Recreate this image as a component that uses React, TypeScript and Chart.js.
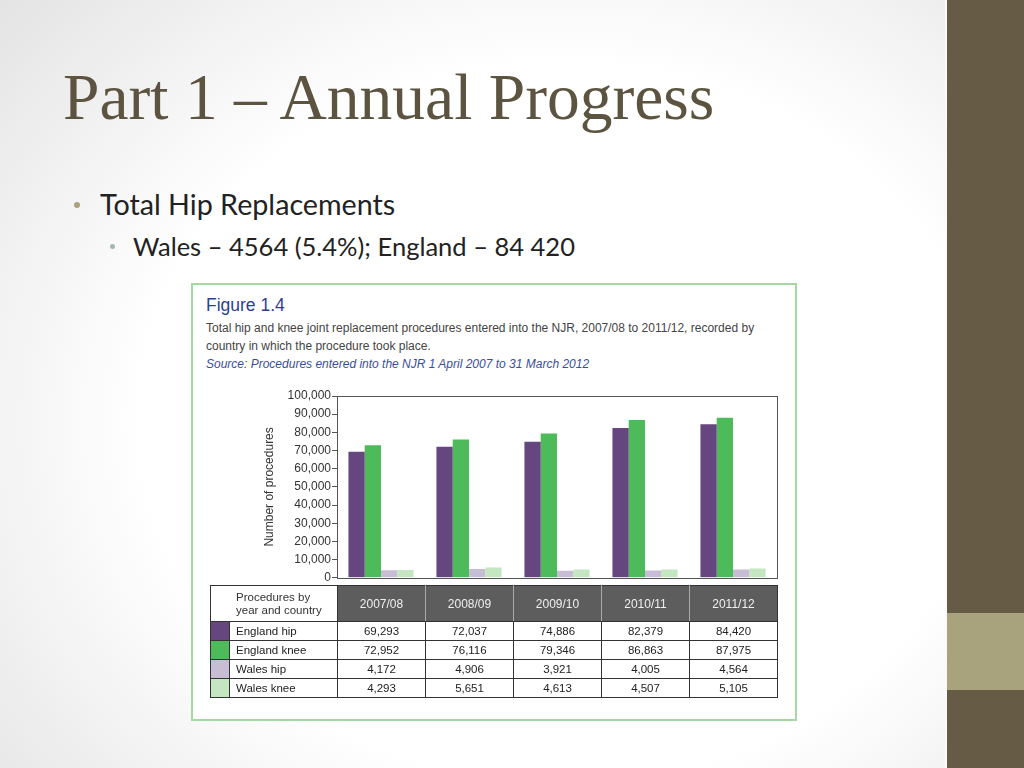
import React, { useEffect, useRef } from "react";
import { Chart, registerables } from "chart.js";

Chart.register(...registerables);

const years = ["2007/08", "2008/09", "2009/10", "2010/11", "2011/12"];
const seriesNames = ["England hip", "England knee", "Wales hip", "Wales knee"];
const englandHip = [69293, 72037, 74886, 82379, 84420];
const englandKnee = [72952, 76116, 79346, 86863, 87975];
const walesHip = [4172, 4906, 3921, 4005, 4564];
const walesKnee = [4293, 5651, 4613, 4507, 5105];
const seriesColors = ["#66467f", "#4dbb5a", "#c7bed6", "#c4e6c0"];
const yTicks = [0, 10000, 20000, 30000, 40000, 50000, 60000, 70000, 80000, 90000, 100000];

const allSeries = [englandHip, englandKnee, walesHip, walesKnee];

const fmt = (v: number) => v.toLocaleString("en-GB");

const framePlugin = {
  id: "frame",
  afterDraw(chart: any) {
    const { ctx, chartArea } = chart;
    ctx.save();
    ctx.strokeStyle = "#555";
    ctx.lineWidth = 1;
    ctx.strokeRect(
      Math.round(chartArea.left) + 0.5,
      Math.round(chartArea.top) + 0.5,
      Math.round(chartArea.right - chartArea.left),
      Math.round(chartArea.bottom - chartArea.top)
    );
    ctx.restore();
  },
};

function BarChart() {
  const ref = useRef<HTMLCanvasElement | null>(null);
  useEffect(() => {
    if (!ref.current) return;
    const chart = new Chart(ref.current, {
      type: "bar",
      data: {
        labels: years,
        datasets: seriesNames.map((name, i) => ({
          label: name,
          data: allSeries[i],
          backgroundColor: seriesColors[i],
          borderWidth: 0,
          categoryPercentage: 0.74,
          barPercentage: 1.0,
        })),
      },
      options: {
        animation: false,
        responsive: false,
        devicePixelRatio: 1,
        layout: { padding: { top: 16, bottom: 8, left: 60, right: 13 } },
        plugins: { legend: { display: false }, tooltip: { enabled: false } },
        scales: {
          x: { display: false },
          y: {
            min: 0,
            max: 100000,
            afterBuildTicks: (axis: any) => {
              axis.ticks = yTicks.map((v) => ({ value: v }));
            },
            afterFit: (axis: any) => {
              axis.width = 77;
            },
            border: { display: true, color: "#555" },
            grid: { drawOnChartArea: false, drawTicks: true, tickLength: 5, color: "#555" },
            ticks: {
              padding: 1,
              color: "#333",
              font: { family: "'Liberation Sans', Arial, sans-serif", size: 12 },
              callback: (v: any) => fmt(Number(v)),
            },
            title: {
              display: true,
              text: "Number of procedures",
              color: "#333",
              padding: { top: 2, bottom: 0 },
              font: { family: "'Liberation Sans', Arial, sans-serif", size: 12 },
            },
          },
        },
      },
      plugins: [framePlugin],
    });
    return () => chart.destroy();
  }, []);
  return <canvas ref={ref} width={590} height={206} style={{ position: "absolute", left: 200, top: 380 }} />;
}

function DataTable() {
  const border = "1px solid #333";
  const font = "'Liberation Sans', Arial, sans-serif";
  return (
    <table
      style={{
        position: "absolute",
        left: 210,
        top: 585,
        width: 568,
        borderCollapse: "collapse",
        tableLayout: "fixed",
        fontFamily: font,
        fontSize: 11.5,
        color: "#222",
      }}
    >
      <colgroup>
        <col style={{ width: 19 }} />
        <col style={{ width: 108 }} />
        {years.map((y) => (
          <col key={y} style={{ width: 88 }} />
        ))}
      </colgroup>
      <tbody>
        <tr style={{ height: 36 }}>
          <td
            colSpan={2}
            style={{
              border,
              padding: "0 0 0 25px",
              lineHeight: "13px",
              fontSize: 11.5,
              color: "#333",
              background: "#fff",
            }}
          >
            Procedures by
            <br />
            year and country
          </td>
          {years.map((y, i) => (
            <td
              key={y}
              style={{
                background: "#5d5d5d",
                color: "#f0f0f0",
                textAlign: "center",
                fontSize: 12,
                borderTop: border,
                borderBottom: border,
                borderRight: i === years.length - 1 ? border : "1px solid #aaa",
                padding: 0,
              }}
            >
              {y}
            </td>
          ))}
        </tr>
        {seriesNames.map((name, r) => (
          <tr key={name} style={{ height: 19 }}>
            <td style={{ background: seriesColors[r], border, padding: 0 }} />
            <td style={{ border, padding: "0 0 0 6px", whiteSpace: "nowrap" }}>{name}</td>
            {allSeries[r].map((v, c) => (
              <td key={c} style={{ border, textAlign: "center", padding: 0 }}>
                {fmt(v)}
              </td>
            ))}
          </tr>
        ))}
      </tbody>
    </table>
  );
}

export default function App() {
  const sans = "'Liberation Sans', Arial, sans-serif";
  return (
    <div
      style={{
        position: "absolute",
        left: 0,
        top: 0,
        width: 1024,
        height: 768,
        overflow: "hidden",
        background: "radial-gradient(ellipse 75% 85% at 55% 55%, #ffffff 55%, #e2e2e2 100%)",
      }}
    >
      <div style={{ position: "absolute", left: 945, top: 0, width: 2, height: 768, background: "#fafafa" }} />
      <div style={{ position: "absolute", left: 947, top: 0, width: 77, height: 768, background: "#665b45" }} />
      <div style={{ position: "absolute", left: 947, top: 613, width: 77, height: 77, background: "#a9a37d" }} />

      <div
        style={{
          position: "absolute",
          left: 63,
          top: 57,
          fontFamily: "'Liberation Serif', 'Times New Roman', serif",
          fontSize: 65.5,
          lineHeight: "80px",
          color: "#5c5440",
          whiteSpace: "nowrap",
        }}
      >
        Part 1 – Annual Progress
      </div>

      <div style={{ position: "absolute", left: 74, top: 202, width: 6, height: 6, borderRadius: 3, background: "#a9a37d" }} />
      <div
        style={{
          position: "absolute",
          left: 100,
          top: 186,
          fontFamily: "Lato, 'Open Sans', sans-serif",
          fontSize: 28.7,
          lineHeight: "36px",
          color: "#222",
          whiteSpace: "nowrap",
        }}
      >
        Total Hip Replacements
      </div>
      <div style={{ position: "absolute", left: 110, top: 244, width: 5, height: 5, borderRadius: 3, background: "#a3b6b0" }} />
      <div
        style={{
          position: "absolute",
          left: 133,
          top: 230,
          fontFamily: "Lato, 'Open Sans', sans-serif",
          fontSize: 25.5,
          lineHeight: "32px",
          color: "#222",
          whiteSpace: "nowrap",
        }}
      >
        Wales – 4564 (5.4%); England – 84 420
      </div>

      <div
        style={{
          position: "absolute",
          left: 191,
          top: 283,
          width: 602,
          height: 434,
          border: "2px solid #a6d8a2",
          background: "#fff",
        }}
      />
      <div
        style={{
          position: "absolute",
          left: 206,
          top: 295,
          fontFamily: sans,
          fontSize: 17.5,
          color: "#2d3f8f",
          whiteSpace: "nowrap",
        }}
      >
        Figure 1.4
      </div>
      <div
        style={{
          position: "absolute",
          left: 206,
          top: 319,
          width: 580,
          fontFamily: sans,
          fontSize: 12,
          lineHeight: "18px",
          color: "#444",
          whiteSpace: "nowrap",
        }}
      >
        Total hip and knee joint replacement procedures entered into the NJR, 2007/08 to 2011/12, recorded by
        <br />
        country in which the procedure took place.
        <br />
        <span style={{ fontStyle: "italic", color: "#3b4e9c" }}>
          Source: Procedures entered into the NJR 1 April 2007 to 31 March 2012
        </span>
      </div>

      <BarChart />
      <DataTable />
    </div>
  );
}
